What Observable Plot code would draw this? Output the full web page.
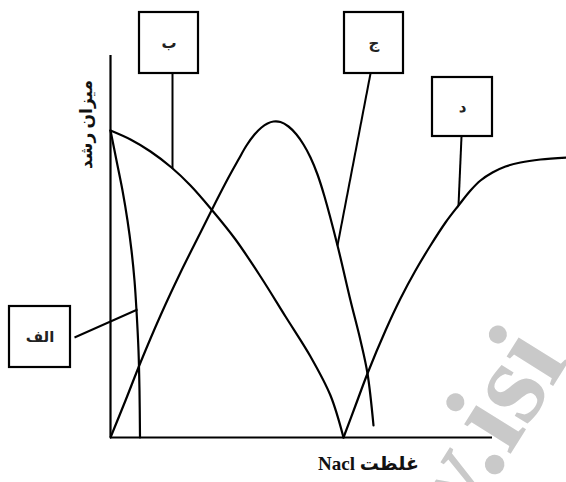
<!DOCTYPE html>
<html>
<head>
<meta charset="utf-8">
<script src="https://cdn.jsdelivr.net/npm/d3@7"></script>
<script src="https://cdn.jsdelivr.net/npm/@observablehq/plot@0.6"></script>
<style>
  html, body { margin: 0; padding: 0; background: #fff; }
  svg { display: block; }
</style>
</head>
<body>
<div id="chart"></div>
<script>
// Curves (x = NaCl concentration, y = growth rate)
const curveAlef = [[0,307],[6,277],[12,247],[17,217],[21,187],[24,157],[26,127],[28,87],[29,47],[29.5,0]];
const curveBe   = [[0,307],[20,298],[40,286],[61,270],[80,252],[101,228],[125,198],[150,161],[175,121],[200,81],[220,42],[233,0]];
const curveJim  = [[0,0],[15,37],[30,75],[50,122],[70,165],[90,205],[105,235],[118,260],[128,278],[136,292],[144,303],[151,310],[157,314],[163,316],[170,315.5],[178,311],[186,303],[193,293],[200,280],[207,263],[214,241],[227,192],[240,137],[250,97],[257,64],[263,12]];
const curveDal  = [[233,0],[245,32],[257,64],[275,107],[290,139],[305,167],[320,192],[335,215],[348,232],[360,247],[370,257],[382,265],[395,271],[410,275],[430,278],[456,280]];

// Label boxes: name, box extent, leader line from box to curve
const boxNames  = ["الف", "ب", "ج", "د"];
const boxX1     = [-101, 29, 234, 322];
const boxX2     = [-40, 88, 293, 382];
const boxY1     = [70, 364, 364, 301];
const boxY2     = [131, 425, 425, 360];
const leadFromX = [-36, 62, 260, 351];
const leadFromY = [100, 364, 364, 301];
const leadToX   = [27, 62, 227, 348];
const leadToY   = [128, 269, 192, 232];

const yTitle = "میزان رشد";
const xTitle = "غلظت Nacl";
const watermark = "ww.isi";

const toRows = (name, pts) => pts.map(([x, y]) => ({name, x, y}));
const curves = [
  ...toRows("الف", curveAlef),
  ...toRows("ب", curveBe),
  ...toRows("ج", curveJim),
  ...toRows("د", curveDal)
];
const boxes = boxNames.map((n, i) => ({
  name: n, x1: boxX1[i], x2: boxX2[i], y1: boxY1[i], y2: boxY2[i],
  cx: (boxX1[i] + boxX2[i]) / 2, cy: (boxY1[i] + boxY2[i]) / 2,
  lx1: leadFromX[i], ly1: leadFromY[i], lx2: leadToX[i], ly2: leadToY[i]
}));

const font = "'Liberation Serif', 'DejaVu Sans', serif";

const chart = Plot.plot({
  width: 566,
  height: 482,
  marginLeft: 110,
  marginRight: 0,
  marginTop: 55,
  marginBottom: 45,
  x: {domain: [0, 456], axis: null},
  y: {domain: [0, 382], axis: null},
  style: {fontFamily: font, background: "#fff"},
  marks: [
    Plot.text([watermark], {x: 262, y: -165, text: d => d, rotate: -58, textAnchor: "start",
      fontSize: 120, fill: "#c9c9c9", fontFamily: font, fontWeight: "bold"}),
    Plot.ruleX([0], {y1: 0, y2: 382, strokeWidth: 2.2, stroke: "#000"}),
    Plot.ruleY([0], {x1: 0, x2: 382, strokeWidth: 2.2, stroke: "#000"}),
    Plot.line(curves, {x: "x", y: "y", z: "name", curve: "catmull-rom", stroke: "#000", strokeWidth: 2.2}),
    Plot.link(boxes, {x1: "lx1", y1: "ly1", x2: "lx2", y2: "ly2", stroke: "#000", strokeWidth: 2}),
    Plot.rect(boxes, {x1: "x1", x2: "x2", y1: "y1", y2: "y2", fill: "#fff", stroke: "#000", strokeWidth: 2.2}),
    Plot.text(boxes, {x: "cx", y: "cy", text: "name", fontSize: 15, fontWeight: "bold", fill: "#222"}),
    Plot.text([yTitle], {x: -24, y: 313, text: d => d, rotate: -90, fontSize: 17, fontWeight: "bold", fill: "#111"}),
    Plot.text([xTitle], {x: 258, y: -26, text: d => d, fontSize: 19, fontWeight: "bold", fill: "#111"})
  ]
});

d3.select(chart).selectAll("text").filter(function() {
  return /[\u0600-\u06FF]/.test(this.textContent);
}).attr("direction", "rtl").style("unicode-bidi", "embed");

document.getElementById("chart").appendChild(chart);
</script>
</body>
</html>
